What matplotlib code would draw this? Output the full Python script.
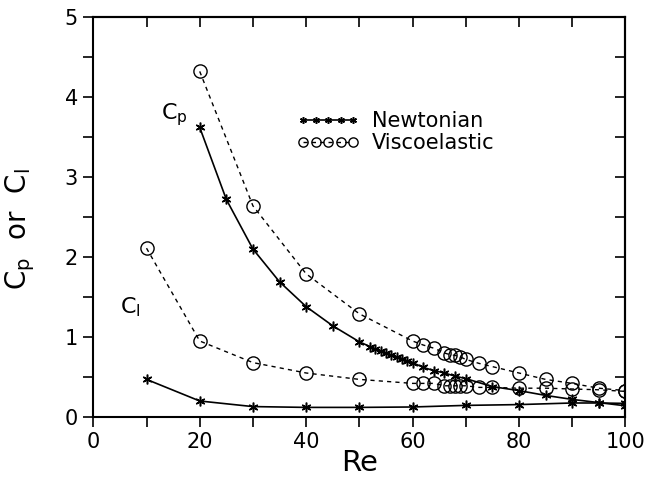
import matplotlib
matplotlib.use("Agg")
import matplotlib.pyplot as plt
from matplotlib.ticker import MultipleLocator

plt.rcParams['font.family'] = ['DejaVu Sans']
plt.rcParams['mathtext.default'] = 'regular'

# Newtonian (solid, asterisks)
newt_cp_re = [20, 25, 30, 35, 40, 45, 50, 52, 53, 54, 55, 56, 57, 58, 59, 60,
              62, 64, 66, 68, 70, 75, 80, 85, 90, 95, 100]
newt_cp = [3.62, 2.72, 2.10, 1.69, 1.38, 1.14, 0.94, 0.88, 0.85, 0.82, 0.80, 0.77,
           0.75, 0.73, 0.70, 0.68, 0.62, 0.58, 0.55, 0.51, 0.48, 0.38, 0.33, 0.27,
           0.22, 0.18, 0.14]
newt_cl_re = [10, 20, 30, 40, 50, 60, 70, 80, 90, 95, 100]
newt_cl = [0.47, 0.20, 0.13, 0.12, 0.12, 0.125, 0.145, 0.155, 0.175, 0.175, 0.17]

# Viscoelastic (dashed, circles)
visc_cp_re = [20, 30, 40, 50, 60, 62, 64, 66, 67, 68, 69, 70, 72.5, 75, 80, 85, 90, 95, 100]
visc_cp = [4.32, 2.64, 1.79, 1.29, 0.95, 0.90, 0.86, 0.80, 0.78, 0.77, 0.75, 0.72,
           0.67, 0.63, 0.55, 0.47, 0.42, 0.36, 0.33]
visc_cl_re = [10, 20, 30, 40, 50, 60, 62, 64, 66, 67, 68, 69, 70, 72.5, 75, 80, 85, 90, 95, 100]
visc_cl = [2.11, 0.95, 0.68, 0.55, 0.47, 0.42, 0.42, 0.42, 0.39, 0.39, 0.39, 0.39, 0.39,
           0.37, 0.37, 0.36, 0.36, 0.35, 0.34, 0.32]

x_ticks = [0, 20, 40, 60, 80, 100]
y_ticks = [0, 1, 2, 3, 4, 5]

star = (6, 2, 0)
fig = plt.figure(figsize=(6.53, 4.9), dpi=100)
ax = fig.add_axes([0.1429, 0.149, 0.8147, 0.8163])

newt_style = dict(color='black', lw=1.2, ls='-', marker=star, ms=7, mew=1.1)
visc_style = dict(color='black', lw=1.0, ls=(0, (3, 3)), marker='o', ms=9.5,
                  mfc='none', mew=1.0)

ax.plot(newt_cp_re, newt_cp, label='Newtonian', **newt_style)
ax.plot(newt_cl_re, newt_cl, **newt_style)
ax.plot(visc_cp_re, visc_cp, label='Viscoelastic', **visc_style)
ax.plot(visc_cl_re, visc_cl, **visc_style)

ax.set_xlim(0, 100)
ax.set_ylim(0, 5)
ax.set_xticks(x_ticks)
ax.set_yticks(y_ticks)
ax.xaxis.set_minor_locator(MultipleLocator(10))
ax.yaxis.set_minor_locator(MultipleLocator(0.5))
ax.tick_params(which='both', direction='out', length=7, width=1.2,
               labelsize=15, top=False, right=False, pad=4)

# inward ticks on top and right
top = ax.secondary_xaxis('top')
top.set_xticks(range(0, 101, 10))
top.tick_params(direction='in', length=7, width=1.2, labeltop=False)
right = ax.secondary_yaxis('right')
right.set_yticks([i * 0.5 for i in range(11)])
right.tick_params(direction='in', length=7, width=1.2, labelright=False)
for s in list(ax.spines.values()) + [top.spines['top'], right.spines['right']]:
    s.set_linewidth(1.5)

ax.set_xlabel('Re', fontsize=21)
ax.xaxis.set_label_coords(0.5, -0.08)
ax.set_ylabel('C$_p$  or  C$_l$', fontsize=20)
ax.yaxis.set_label_coords(-0.105, 0.47)

ax.text(12.8, 3.78, 'C$_p$', fontsize=16, va='center', ha='left')
ax.text(5.0, 1.37, 'C$_l$', fontsize=16, va='center', ha='left')

ax.legend(loc='upper left', bbox_to_anchor=(0.383, 0.765), frameon=False,
          numpoints=5, handlelength=3.0, handletextpad=0.6, labelspacing=0.1,
          borderpad=0, borderaxespad=0, markerscale=0.7, fontsize=15)

fig.savefig('out.png', dpi=100)
